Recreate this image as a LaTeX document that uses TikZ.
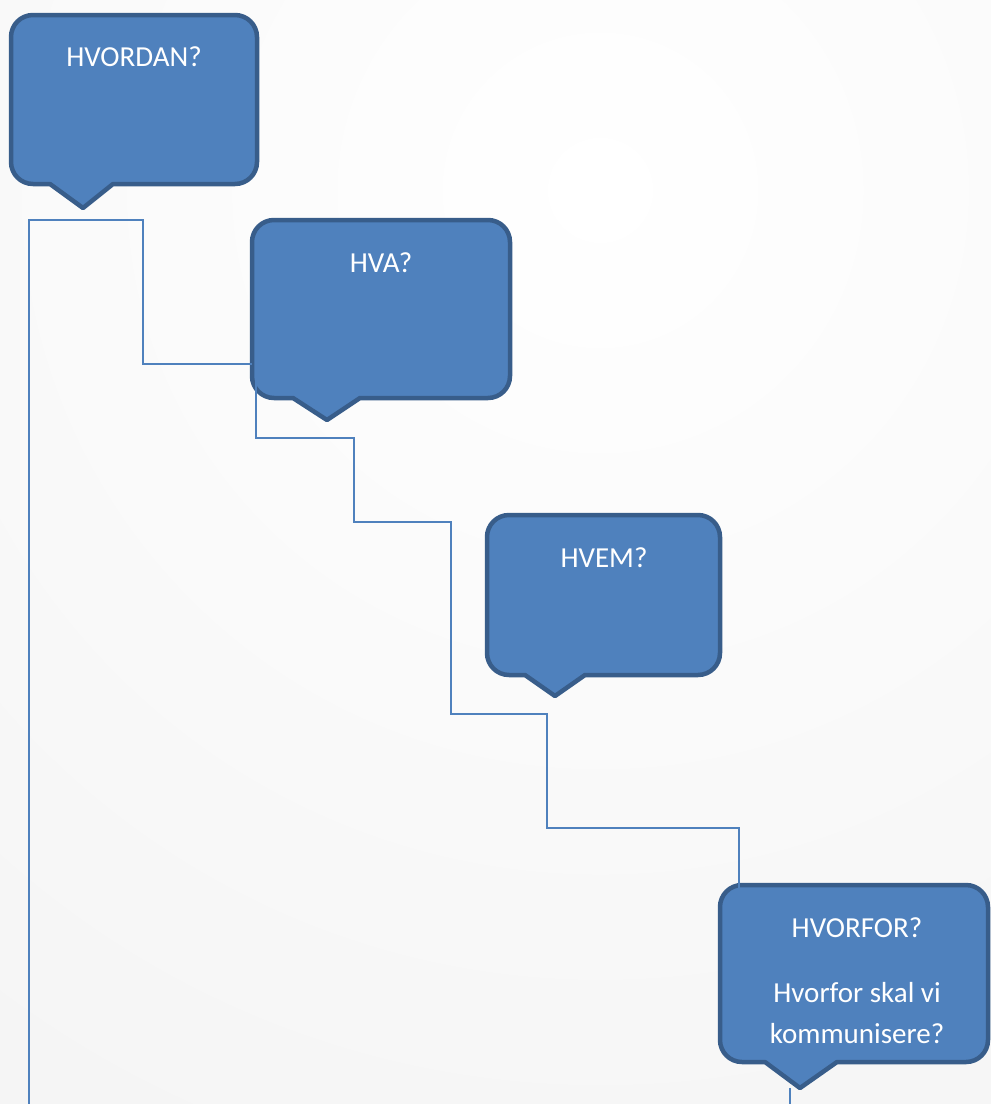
\documentclass[tikz,border=0pt]{standalone}
\usepackage{fontspec}
\setmainfont{Carlito}
\definecolor{bfill}{RGB}{79,129,189}
\definecolor{bdraw}{RGB}{56,93,138}
\definecolor{cline}{RGB}{79,129,189}
\definecolor{bgout}{RGB}{236,236,236}
\newcommand\speechbubble[8]{%
  \draw[bubble] ({#1+22},-#3) -- ({#2-22},-#3) arc[start angle=90,end angle=0,radius=22]
    -- (#2,{-#4+22}) arc[start angle=0,end angle=-90,radius=22]
    -- (#6,-#4) -- (#7,-#8) -- (#5,-#4) -- ({#1+22},-#4)
    arc[start angle=270,end angle=180,radius=22]
    -- (#1,{-#3-22}) arc[start angle=180,end angle=90,radius=22] -- cycle;}
\tikzset{
  bubble/.style={fill=bfill, draw=bdraw, line width=4.5pt, line join=round},
  qtext/.style={text=white, font=\fontsize{29}{35}\selectfont, anchor=base, inner sep=0pt},
  conn/.style={draw=cline, line width=2.2pt}
}
\begin{document}
\begin{tikzpicture}[x=1pt,y=1pt]
\useasboundingbox (0,0) rectangle (991,-1104);
\begin{scope}
\clip (0,0) rectangle (991,-1104);
\fill[bgout] (0,0) rectangle (991,-1104);
\shade[inner color=white, outer color=bgout] (600,-190) circle (2000);
\end{scope}

% bubbles
\speechbubble{11}{257}{15}{184}{50}{113}{83}{208}
\speechbubble{252}{510}{220}{398}{293}{360}{327}{420}
\speechbubble{487}{720}{515}{675}{525}{585}{555}{696}
\speechbubble{720}{988}{885}{1062}{765}{837}{800}{1088}

% texts
\node[qtext] (hvordan) at (134,-66) {HVORDAN?};
\node[qtext] (hva) at (381,-272) {HVA?};
\node[qtext] (hvem) at (604,-567) {HVEM?};
\node[qtext] (hvorfor) at (857,-937) {HVORFOR?};
\node[qtext] (hvorfor2) at (857,-1002) {Hvorfor skal vi};
\node[qtext] (hvorfor3) at (857,-1043) {kommunisere?};

% connector points
\coordinate (a0) at (252,-364);
\coordinate (a1) at (143,-364);
\coordinate (a2) at (143,-220);
\coordinate (a3) at (29,-220);
\coordinate (a4) at (29,-1104);

\coordinate (b0) at (256,-364);
\coordinate (b1) at (256,-438);
\coordinate (b2) at (354,-438);
\coordinate (b3) at (354,-522);
\coordinate (b4) at (451,-522);
\coordinate (b5) at (451,-714);
\coordinate (b6) at (547,-714);
\coordinate (b7) at (547,-828);
\coordinate (b8) at (739,-828);
\coordinate (b9) at (739,-940);

\coordinate (c0) at (790,-1088);
\coordinate (c1) at (790,-1104);

\draw[conn] (a0) -- (a1) -- (a2) -- (a3) -- (a4);
\draw[conn] (b0) -- (b1) -- (b2) -- (b3) -- (b4) -- (b5) -- (b6) -- (b7) -- (b8) -- (b9);
\draw[conn] (c0) -- (c1);
\end{tikzpicture}
\end{document}
